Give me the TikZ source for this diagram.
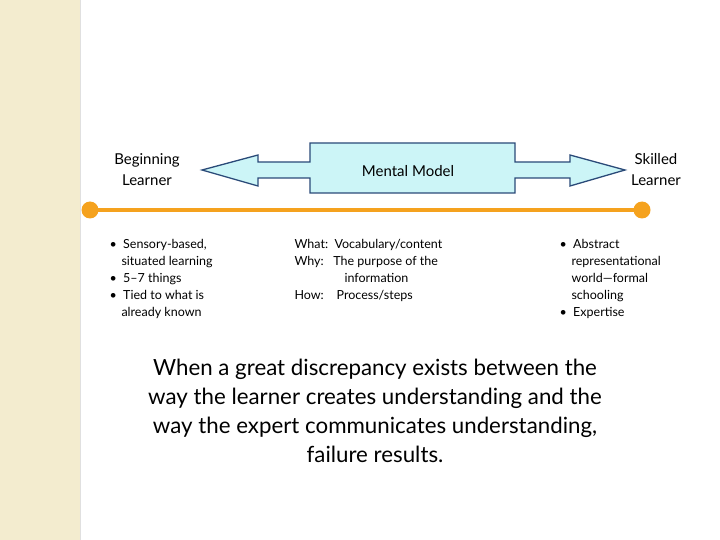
\documentclass[tikz,border=0pt]{standalone}
\usepackage{fontspec}
\setmainfont{Lato}
\definecolor{strip}{HTML}{F3ECCF}
\definecolor{orng}{HTML}{F5A21E}
\definecolor{boxfill}{HTML}{CCF5F7}
\definecolor{boxline}{HTML}{2A4A78}
\begin{document}
\begin{tikzpicture}[x=1pt,y=-1pt,
  lbl/.style={font=\fontsize{15}{21}\selectfont,align=center},
  small/.style={font=\fontsize{12.5}{17}\selectfont,align=left,anchor=north west},
  dot/.style={circle,fill=orng,inner sep=0pt,minimum size=17pt}]
\useasboundingbox (0,0) rectangle (720,540);
\fill[strip] (0,0) rectangle (80,540);
\draw[black!12] (80,0) -- (80,540);
\draw[boxline,line width=1.3pt,fill=boxfill,line join=miter]
  (310,143) -- (515,143) -- (515,162) -- (570,162) -- (570,155) -- (625,170)
  -- (570,186) -- (570,178) -- (515,178) -- (515,193) -- (310,193) -- (310,178)
  -- (258,178) -- (258,186) -- (202,170) -- (258,155) -- (258,162) -- (310,162) -- cycle;
\node[lbl] (mm) at (408,171) {Mental Model};
\node[lbl] (bl) at (147,170) {Beginning\\Learner};
\node[lbl] (sl) at (656,170) {Skilled\\Learner};
\node[dot] (d1) at (90,210) {};
\node[dot] (d2) at (642,210) {};
\draw[orng,line width=4pt] (d1.center) -- (d2.center);
\node[small] (l1) at (106,236) {\textbullet\ \ Sensory-based,\\\hspace{12pt}situated learning\\\textbullet\ \ 5--7 things\\\textbullet\ \ Tied to what is\\\hspace{12pt}already known};
\node[small] (l2) at (291,236) {What:\ \ Vocabulary/content\\Why:\ \ \ The purpose of the\\\hspace{50pt}information\\How:\ \ \ \ Process/steps};
\node[small] (l3) at (556,236) {\textbullet\ \ Abstract\\\hspace{12pt}representational\\\hspace{12pt}world---formal\\\hspace{12pt}schooling\\\textbullet\ \ Expertise};
\node[font=\fontsize{22.3}{29}\selectfont,align=center] (msg) at (375,411) {When a great discrepancy exists between the\\way the learner creates understanding and the\\way the expert communicates understanding,\\failure results.};
\end{tikzpicture}
\end{document}
